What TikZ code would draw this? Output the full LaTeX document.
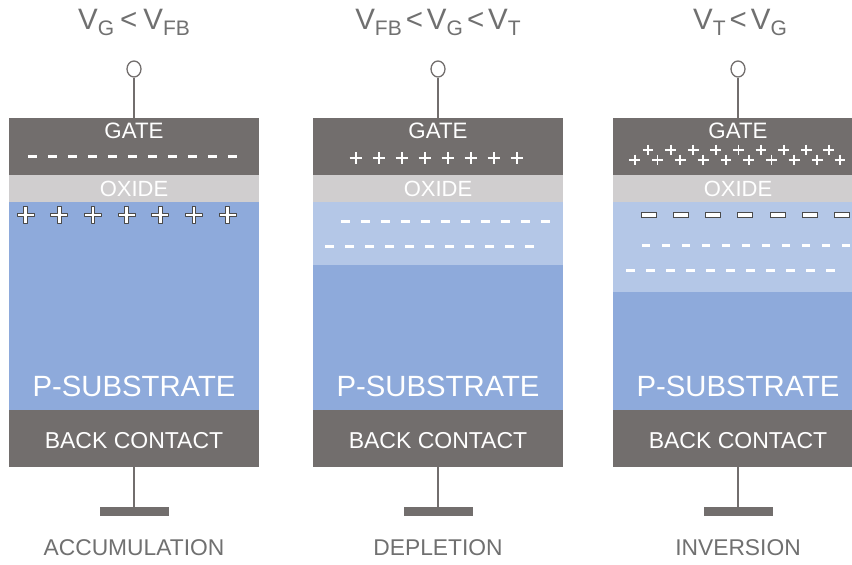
\documentclass[tikz,border=0pt]{standalone}
\usepackage{fontspec}
\setmainfont{Liberation Sans}
\usetikzlibrary{shapes.geometric}
\definecolor{gatec}{HTML}{726E6D}
\definecolor{oxc}{HTML}{D0CECF}
\definecolor{subc}{HTML}{8EAADB}
\definecolor{bandc}{HTML}{B4C7E7}
\definecolor{txtc}{HTML}{707070}
\definecolor{outc}{HTML}{4A4A4A}
\newcommand\vsb[1]{\raisebox{-6.5pt}{\fontsize{21}{21}\selectfont #1}}
\tikzset{
  layer/.style={rectangle, draw=none, inner sep=0pt, outer sep=0pt, minimum width=250pt, anchor=north west},
  term/.style={ellipse, draw=gatec, fill=white, line width=1.3pt, minimum width=14pt, minimum height=16pt, inner sep=0pt},
  wire/.style={draw=gatec, line width=1.8pt},
  gnd/.style={rectangle, fill=gatec, inner sep=0pt, outer sep=0pt, minimum width=69pt, minimum height=9pt},
  wtext/.style={text=white, anchor=base, inner sep=0pt},
  gtext/.style={text=txtc, anchor=base, inner sep=0pt},
  plusc/.style={draw=white, line width=1.9pt},
  opl/.pic={\draw[outc, fill=white, line width=0.9pt, line join=round]
     (-1.9,-8.5) -- (1.9,-8.5) -- (1.9,-1.9) -- (8.5,-1.9) -- (8.5,1.9) -- (1.9,1.9) -- (1.9,8.5)
     -- (-1.9,8.5) -- (-1.9,1.9) -- (-8.5,1.9) -- (-8.5,-1.9) -- (-1.9,-1.9) -- cycle;},
  omn/.pic={\draw[outc, fill=white, line width=1pt] (-7.5,-2.5) rectangle (7.5,2.5);},
  wdash/.pic={\fill[white] (-4.3,-1.5) rectangle (4.3,1.5);},
  wplus/.pic={\draw[plusc] (-6,0) -- (6,0) (0,-6) -- (0,6);},
  splus/.pic={\draw[white, line width=1.8pt] (-5.4,0) -- (5.4,0) (0,-5.4) -- (0,5.4);}
}
\begin{document}
\begin{tikzpicture}[x=1pt, y=-1pt]
\useasboundingbox (0,0) rectangle (852,565);
\clip (0,0) rectangle (852,565);
\fill[white] (0,0) rectangle (852,565);

\foreach \L/\n in {9/a, 313/b, 613/c} {
  \node[layer, fill=gatec, minimum height=57pt] (gate\n) at (\L,118) {};
  \node[layer, fill=oxc, minimum height=27pt] (ox\n) at (\L,175) {};
  \node[layer, fill=subc, minimum height=208pt] (sub\n) at (\L,202) {};
  \node[layer, fill=gatec, minimum height=57pt] (back\n) at (\L,410) {};
  \node[term] (term\n) at (\L+125,69) {};
  \draw[wire] (term\n) -- (gate\n.north);
  \node[gnd] (gnd\n) at (\L+125,511.5) {};
  \draw[wire] (back\n.south) -- (gnd\n.north);
}
% depletion / inversion bands
\node[layer, fill=bandc, minimum height=63pt] (bandb) at (313,202) {};
\node[layer, fill=bandc, minimum height=90pt] (bandc) at (613,202) {};

\foreach \L/\n/\lab in {9/a/ACCUMULATION, 313/b/DEPLETION, 613/c/INVERSION} {
  \node[wtext, font=\fontsize{22.3}{22.3}\selectfont] (gatelbl\n) at (\L+125,138.3) {GATE};
  \node[wtext, font=\fontsize{22}{22}\selectfont] (oxlbl\n) at (\L+125,196.7) {OXIDE};
  \node[wtext, font=\fontsize{29.3}{29.3}\selectfont] (sublbl\n) at (\L+125,396.7) {P-SUBSTRATE};
  \node[wtext, font=\fontsize{23}{23}\selectfont] (backlbl\n) at (\L+125,448.3) {BACK CONTACT};
  \node[gtext, font=\fontsize{22.8}{22.8}\selectfont] (mode\n) at (\L+125,555.5) {\lab};
}

% titles
\node[gtext, font=\fontsize{29.5}{29.5}\selectfont] (titlea) at (134,29) {V\vsb{G}\hspace{6pt}<\hspace{6pt}V\vsb{FB}};
\node[gtext, font=\fontsize{29.5}{29.5}\selectfont] (titleb) at (438,29) {V\vsb{FB}\hspace{4pt}<\hspace{4pt}V\vsb{G}\hspace{4pt}<\hspace{4pt}V\vsb{T}};
\node[gtext, font=\fontsize{29.5}{29.5}\selectfont] (titlec) at (740,29) {V\vsb{T}\hspace{4pt}<\hspace{4pt}V\vsb{G}};

% accumulation charges
\foreach \i in {0,...,10} \pic at (32.3+20*\i,156.7) {wdash};
\foreach \i in {0,...,6} \pic at (25.5+33.7*\i,215) {opl};

% depletion charges
\foreach \i in {0,...,7} \pic at (355.7+23*\i,158.3) {wplus};
\foreach \i in {0,...,10} \pic at (345.3+20*\i,221.7) {wdash};
\foreach \i in {0,...,10} \pic at (329.7+20*\i,246.7) {wdash};

% inversion charges
\foreach \i in {0,...,8} \pic at (648+22.6*\i,150) {splus};
\foreach \i in {0,...,9} \pic at (634.7+22.8*\i,160) {splus};
\foreach \i in {0,...,7} \pic at (648.7+32.2*\i,215) {omn};
\foreach \i in {0,...,10} \pic at (646+20*\i,245.7) {wdash};
\foreach \i in {0,...,10} \pic at (630.3+20*\i,270.3) {wdash};
\end{tikzpicture}
\end{document}
